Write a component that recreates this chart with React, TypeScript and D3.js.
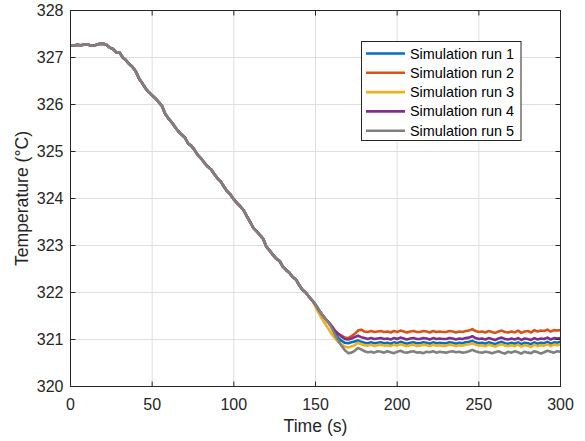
import React from "react";
import * as d3 from "d3";

// Shared descent, t = 0..148 step 2
const descent = [
  327.26, 327.25, 327.27, 327.26, 327.27, 327.28, 327.26, 327.25, 327.27, 327.29,
  327.29, 327.27, 327.21, 327.18, 327.11, 327.11, 327.0, 326.94, 326.86, 326.8,
  326.7, 326.55, 326.45, 326.34, 326.26, 326.19, 326.13, 326.05, 325.97, 325.8,
  325.7, 325.62, 325.52, 325.43, 325.36, 325.3, 325.17, 325.12, 325.03, 324.92,
  324.85, 324.76, 324.68, 324.62, 324.52, 324.43, 324.36, 324.25, 324.15, 324.08,
  323.98, 323.9, 323.83, 323.75, 323.62, 323.5, 323.37, 323.3, 323.22, 323.14,
  322.97, 322.89, 322.8, 322.72, 322.67, 322.55, 322.48, 322.42, 322.33, 322.28,
  322.16, 322.06, 322.0, 321.91, 321.83,
];

// Tails, t = 150..300 step 2
const run1Tail = [
  321.74, 321.63, 321.53, 321.44, 321.36, 321.25, 321.13, 321.03, 320.97, 320.93,
  320.92, 320.94, 320.96, 320.98, 320.95, 320.93, 320.92, 320.94, 320.92, 320.93,
  320.94, 320.92, 320.93, 320.91, 320.94, 320.92, 320.95, 320.93, 320.91, 320.93,
  320.94, 320.92, 320.92, 320.94, 320.93, 320.91, 320.94, 320.92, 320.93, 320.92,
  320.92, 320.94, 320.93, 320.91, 320.93, 320.92, 320.94, 320.95, 320.97, 320.94,
  320.92, 320.93, 320.91, 320.94, 320.92, 320.9, 320.93, 320.95, 320.92, 320.91,
  320.93, 320.91, 320.94, 320.9, 320.93, 320.92, 320.9, 320.94, 320.91, 320.93,
  320.92, 320.95, 320.91, 320.94, 320.93, 320.95,
];
const run2Tail = [
  321.74, 321.63, 321.53, 321.44, 321.37, 321.28, 321.18, 321.12, 321.08, 321.04,
  321.03, 321.07, 321.12, 321.19, 321.21, 321.17, 321.16, 321.18, 321.16, 321.17,
  321.18, 321.16, 321.17, 321.15, 321.18, 321.16, 321.19, 321.17, 321.15, 321.17,
  321.18, 321.16, 321.16, 321.18, 321.17, 321.15, 321.18, 321.16, 321.17, 321.16,
  321.16, 321.18, 321.17, 321.15, 321.17, 321.16, 321.18, 321.19, 321.22, 321.18,
  321.16, 321.17, 321.15, 321.18, 321.16, 321.14, 321.17, 321.19, 321.16, 321.15,
  321.17, 321.15, 321.19, 321.14, 321.17, 321.18, 321.15, 321.2, 321.17, 321.19,
  321.18, 321.21, 321.17, 321.2, 321.19, 321.2,
];
const run3Tail = [
  321.7, 321.56, 321.44, 321.33, 321.22, 321.11, 321.02, 320.95, 320.89, 320.85,
  320.83, 320.85, 320.88, 320.93, 320.9, 320.88, 320.87, 320.89, 320.86, 320.88,
  320.89, 320.87, 320.88, 320.86, 320.89, 320.87, 320.9, 320.88, 320.86, 320.88,
  320.89, 320.86, 320.87, 320.89, 320.88, 320.86, 320.89, 320.87, 320.88, 320.86,
  320.87, 320.89, 320.88, 320.86, 320.88, 320.87, 320.89, 320.9, 320.92, 320.89,
  320.87, 320.88, 320.86, 320.89, 320.87, 320.85, 320.88, 320.9, 320.87, 320.86,
  320.88, 320.86, 320.89, 320.85, 320.88, 320.87, 320.84, 320.89, 320.86, 320.88,
  320.87, 320.9, 320.86, 320.89, 320.88, 320.9,
];
const run4Tail = [
  321.74, 321.63, 321.53, 321.44, 321.37, 321.28, 321.18, 321.12, 321.06, 321.01,
  321.0, 321.02, 321.05, 321.08, 321.05, 321.03, 321.01, 321.03, 321.01, 321.02,
  321.03, 321.01, 321.02, 321.0, 321.03, 321.01, 321.04, 321.02, 321.0, 321.02,
  321.03, 321.01, 321.01, 321.03, 321.02, 321.0, 321.03, 321.01, 321.02, 321.01,
  321.01, 321.03, 321.02, 321.0, 321.02, 321.01, 321.03, 321.04, 321.07, 321.03,
  321.01, 321.02, 321.0, 321.03, 321.01, 320.99, 321.02, 321.04, 321.01, 321.0,
  321.02, 321.0, 321.03, 320.99, 321.02, 321.01, 320.99, 321.03, 321.0, 321.02,
  321.01, 321.04, 321.0, 321.03, 321.02, 321.03,
];
const run5Tail = [
  321.74, 321.63, 321.53, 321.44, 321.36, 321.24, 321.1, 320.97, 320.86, 320.77,
  320.71, 320.72, 320.76, 320.82, 320.79, 320.75, 320.73, 320.74, 320.72, 320.75,
  320.74, 320.72, 320.75, 320.73, 320.71, 320.74, 320.76, 320.73, 320.72, 320.74,
  320.75, 320.72, 320.73, 320.71, 320.74, 320.73, 320.75, 320.72, 320.74, 320.73,
  320.72, 320.74, 320.75, 320.73, 320.74, 320.72, 320.73, 320.75, 320.78, 320.75,
  320.73, 320.72, 320.74, 320.73, 320.71, 320.73, 320.75, 320.72, 320.7, 320.74,
  320.72, 320.75, 320.73, 320.7, 320.74, 320.72, 320.71, 320.75, 320.73, 320.7,
  320.73, 320.76, 320.74, 320.72, 320.75, 320.74,
];

const seriesNames = [
  "Simulation run 1",
  "Simulation run 2",
  "Simulation run 3",
  "Simulation run 4",
  "Simulation run 5",
];
const tails = [run1Tail, run2Tail, run3Tail, run4Tail, run5Tail];
const colors = ["#0072BD", "#D95319", "#EDB120", "#7E2F8E", "#808080"];

const xTicks = [0, 50, 100, 150, 200, 250, 300];
const yTicks = [320, 321, 322, 323, 324, 325, 326, 327, 328];

const W = 585;
const H = 441;
const left = 70.5;
const right = 560.5;
const top = 10.5;
const bottom = 386.5;
const FONT = "'Liberation Sans', Arial, Helvetica, sans-serif";

export default function App() {
  const x = d3.scaleLinear().domain([0, 300]).range([left, right]);
  const y = d3.scaleLinear().domain([320, 328]).range([bottom, top]);

  const series = tails.map((tail) => {
    const pts: [number, number][] = [];
    descent.forEach((v, i) => pts.push([i * 2, v]));
    tail.forEach((v, i) => pts.push([150 + i * 2, v]));
    return pts;
  });

  const line = d3
    .line<[number, number]>()
    .x((d) => x(d[0]))
    .y((d) => y(d[1]));

  const axisColor = "#262626";
  const gridColor = "#dfdfdf";
  const tickLen = 5;

  const legX = 361.5;
  const legY = 41.5;
  const legW = 159.5;
  const legH = 99;
  const rowH = 19.3;

  return (
    <svg
      width={W}
      height={H}
      style={{ position: "absolute", left: 0, top: 0, background: "#fff" }}
      fontFamily={FONT}
    >
      <rect x={0} y={0} width={W} height={H} fill="#fff" />
      {/* grid */}
      {xTicks.map((t) => (
        <line key={"gx" + t} x1={x(t)} x2={x(t)} y1={top} y2={bottom} stroke={gridColor} strokeWidth={1} />
      ))}
      {yTicks.map((t) => (
        <line key={"gy" + t} x1={left} x2={right} y1={y(t)} y2={y(t)} stroke={gridColor} strokeWidth={1} />
      ))}
      {/* series */}
      <g clipPath="url(#clip)">
        {series.map((s, i) => (
          <path key={i} d={line(s) || ""} fill="none" stroke={colors[i]} strokeWidth={2.6} strokeLinejoin="round" />
        ))}
      </g>
      <defs>
        <clipPath id="clip">
          <rect x={left} y={top} width={right - left} height={bottom - top} />
        </clipPath>
      </defs>
      {/* box */}
      <rect x={left} y={top} width={right - left} height={bottom - top} fill="none" stroke={axisColor} strokeWidth={1} />
      {/* ticks */}
      {xTicks.map((t) => (
        <g key={"tx" + t}>
          <line x1={x(t)} x2={x(t)} y1={bottom} y2={bottom - tickLen} stroke={axisColor} />
          <line x1={x(t)} x2={x(t)} y1={top} y2={top + tickLen} stroke={axisColor} />
          <text x={x(t)} y={410} textAnchor="middle" fontSize={16} fill={axisColor}>
            {t}
          </text>
        </g>
      ))}
      {yTicks.map((t) => (
        <g key={"ty" + t}>
          <line x1={left} x2={left + tickLen} y1={y(t)} y2={y(t)} stroke={axisColor} />
          <line x1={right} x2={right - tickLen} y1={y(t)} y2={y(t)} stroke={axisColor} />
          <text x={63.5} y={y(t) + 5.8} textAnchor="end" fontSize={16} fill={axisColor}>
            {t}
          </text>
        </g>
      ))}
      {/* axis labels */}
      <text x={(left + right) / 2} y={432} textAnchor="middle" fontSize={17.6} fill={axisColor}>
        Time (s)
      </text>
      <text
        transform={`translate(28,${(top + bottom) / 2}) rotate(-90)`}
        textAnchor="middle"
        fontSize={17.6}
        fill={axisColor}
      >
        Temperature (°C)
      </text>
      {/* legend */}
      <rect x={legX} y={legY} width={legW} height={legH} fill="#fff" stroke={axisColor} strokeWidth={1} />
      {seriesNames.map((name, i) => {
        const cy = legY + 12 + i * rowH;
        return (
          <g key={name}>
            <line x1={366} x2={405} y1={cy} y2={cy} stroke={colors[i]} strokeWidth={2.6} />
            <text x={410} y={cy + 5} fontSize={14.4} fill="#000">
              {name}
            </text>
          </g>
        );
      })}
    </svg>
  );
}
